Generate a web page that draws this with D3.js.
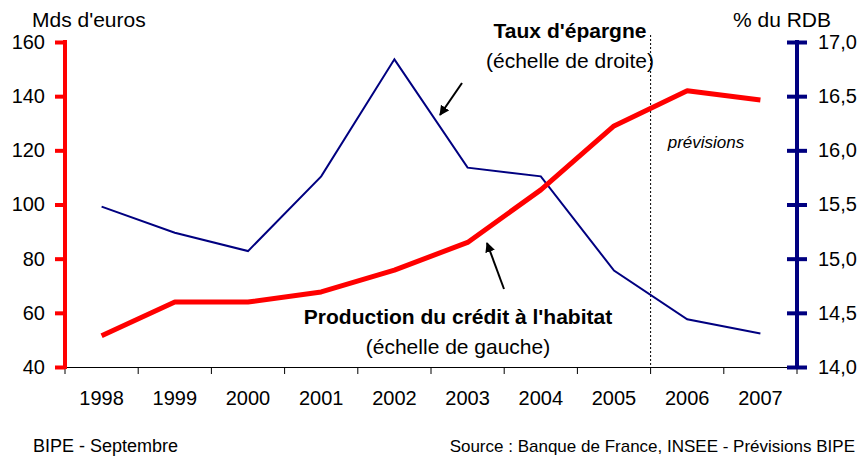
<!DOCTYPE html>
<html><head><meta charset="utf-8">
<script src="https://cdn.jsdelivr.net/npm/d3@7"></script>
<style>body{margin:0;background:#fff}svg{display:block;font-family:"Liberation Sans",Arial,sans-serif}</style>
</head><body><svg id="c" width="859" height="460"></svg>
<script>
const years = ["1998","1999","2000","2001","2002","2003","2004","2005","2006","2007"];
const credit = [51.5, 64, 64, 67.7, 75.8, 86, 105.4, 129, 142, 138.6];
const epargne = [15.48, 15.24, 15.07, 15.76, 16.84, 15.84, 15.76, 14.89, 14.44, 14.31];
const leftTicks = [40, 60, 80, 100, 120, 140, 160];
const rightTicks = [14.0, 14.5, 15.0, 15.5, 16.0, 16.5, 17.0];

const svg = d3.select("#c");
const L = 65, R = 797, T = 42, B = 367;
const FF = "Liberation Sans, Arial, sans-serif";
const x = d3.scaleBand().domain(years).range([L, R]);
const yL = d3.scaleLinear().domain([40, 160]).range([B, T]);
const yR = d3.scaleLinear().domain([14, 17]).range([B, T]);
const cx = d => x(d) + x.bandwidth() / 2;

// x axis
const xa = svg.append("g").attr("transform", `translate(0,${B})`)
  .call(d3.axisBottom(x).tickSize(0).tickPadding(24));
xa.select(".domain").attr("stroke", "#000").attr("stroke-width", 1);
xa.selectAll("text").attr("font-size", 20).attr("fill", "#000").attr("font-family", FF);
svg.append("g").selectAll("line").data(years).join("line")
  .attr("x1", (d, i) => L + (i + 1) * x.bandwidth()).attr("x2", (d, i) => L + (i + 1) * x.bandwidth())
  .attr("y1", B).attr("y2", B + 7).attr("stroke", "#000");
svg.append("line").attr("x1", L).attr("x2", L).attr("y1", B).attr("y2", B + 7).attr("stroke", "#000");

// forecast line
svg.append("line").attr("x1", x("2006")).attr("x2", x("2006")).attr("y1", 35).attr("y2", B)
  .attr("stroke", "#000").attr("stroke-width", 1).attr("stroke-dasharray", "2,2");
svg.append("text").attr("x", 706).attr("y", 148).attr("text-anchor", "middle")
  .attr("font-size", 17).attr("font-style", "italic").text("prévisions");

// left axis
const la = svg.append("g").attr("transform", `translate(${L},0)`)
  .call(d3.axisLeft(yL).tickValues(leftTicks).tickSize(10).tickPadding(10));
la.select(".domain").remove();
la.selectAll("line").attr("stroke", "#ff0000").attr("stroke-width", 4);
la.selectAll("text").attr("font-size", 20).attr("fill", "#000").attr("font-family", FF);
svg.append("line").attr("x1", L).attr("x2", L).attr("y1", T - 2).attr("y2", B + 2)
  .attr("stroke", "#ff0000").attr("stroke-width", 4);

// right axis
const ra = svg.append("g").attr("transform", `translate(${R},0)`)
  .call(d3.axisRight(yR).tickValues(rightTicks).tickSize(10).tickPadding(11).tickFormat(d => d3.format(".1f")(d).replace(".", ",")));
ra.select(".domain").remove();
ra.selectAll("line").attr("x1", -10).attr("stroke", "#000080").attr("stroke-width", 4);
ra.selectAll("text").attr("font-size", 20).attr("fill", "#000").attr("font-family", FF);
svg.append("line").attr("x1", R).attr("x2", R).attr("y1", T - 2).attr("y2", B + 2)
  .attr("stroke", "#000080").attr("stroke-width", 4);

// axis titles
svg.append("text").attr("x", 32).attr("y", 27).attr("font-size", 21).text("Mds d'euros");
svg.append("text").attr("x", 733).attr("y", 27).attr("font-size", 21).text("% du RDB");

// series
svg.append("path").datum(epargne).attr("fill", "none").attr("stroke", "#000080").attr("stroke-width", 2)
  .attr("d", d3.line().x((d, i) => cx(years[i])).y(d => yR(d)));
svg.append("path").datum(credit).attr("fill", "none").attr("stroke", "#ff0000").attr("stroke-width", 5)
  .attr("stroke-linejoin", "round")
  .attr("d", d3.line().x((d, i) => cx(years[i])).y(d => yL(d)));

// annotations
svg.append("defs").append("marker").attr("id", "ah").attr("viewBox", "0 0 10 10").attr("refX", 9).attr("refY", 5)
  .attr("markerWidth", 5).attr("markerHeight", 5).attr("orient", "auto")
  .append("path").attr("d", "M0,0L10,5L0,10z").attr("fill", "#000");
svg.append("line").attr("x1", 462).attr("y1", 83).attr("x2", 440).attr("y2", 115)
  .attr("stroke", "#000").attr("stroke-width", 2).attr("marker-end", "url(#ah)");
svg.append("line").attr("x1", 504).attr("y1", 289).attr("x2", 487).attr("y2", 243)
  .attr("stroke", "#000").attr("stroke-width", 2).attr("marker-end", "url(#ah)");

svg.append("text").attr("x", 570).attr("y", 38).attr("text-anchor", "middle").attr("font-size", 21).attr("font-weight", "bold").text("Taux d'épargne");
svg.append("text").attr("x", 570).attr("y", 68).attr("text-anchor", "middle").attr("font-size", 21).text("(échelle de droite)");
svg.append("text").attr("x", 458).attr("y", 324).attr("text-anchor", "middle").attr("font-size", 21).attr("font-weight", "bold").text("Production du crédit à l'habitat");
svg.append("text").attr("x", 458).attr("y", 354).attr("text-anchor", "middle").attr("font-size", 21).text("(échelle de gauche)");

// footer
svg.append("text").attr("x", 33).attr("y", 452).attr("font-size", 18).text("BIPE - Septembre");
svg.append("text").attr("x", 855).attr("y", 452).attr("text-anchor", "end").attr("font-size", 17).text("Source : Banque de France, INSEE - Prévisions BIPE");
</script></body></html>
